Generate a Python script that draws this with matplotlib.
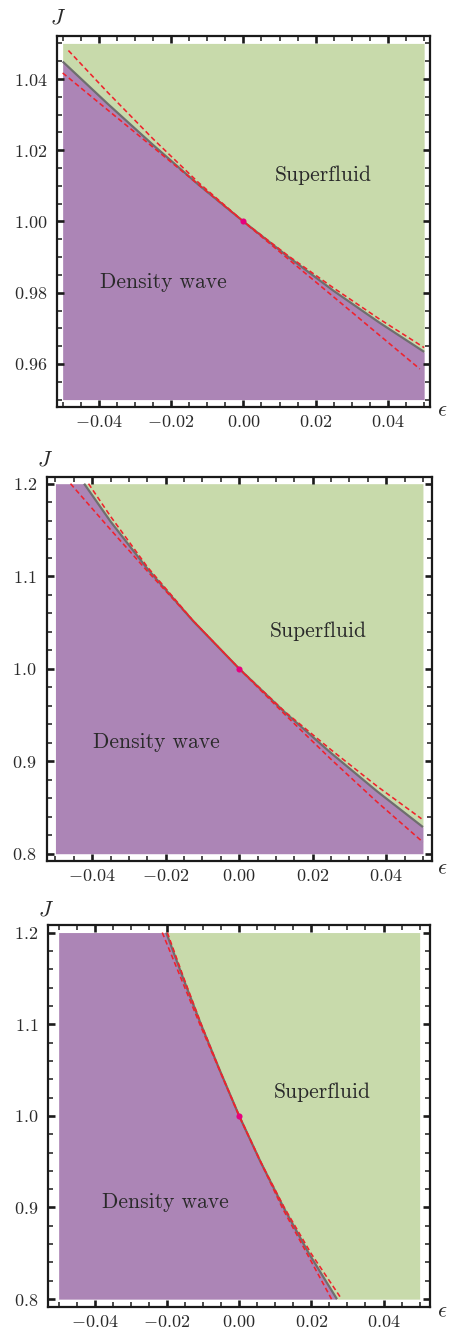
#!/usr/bin/env python3
# -*- coding: utf-8 -*-
"""Phase diagram J vs epsilon: density wave / superfluid, three panels."""

import numpy as np
import matplotlib
matplotlib.use("Agg")
import matplotlib.pyplot as plt
from matplotlib.ticker import MultipleLocator

plt.rcParams["font.family"] = ["cmr10", "DejaVu Serif"]
plt.rcParams["mathtext.fontset"] = "cm"
plt.rcParams["axes.formatter.use_mathtext"] = True
plt.rcParams["axes.unicode_minus"] = True

# ============================
# Data
# ============================
# Panel 1
EPS1_BOUND = [-0.05, -0.0375, -0.025, -0.0125, 0.0, 0.0125, 0.025, 0.0375, 0.05]
J1_BOUND = [1.0449, 1.0330, 1.0215, 1.0104, 1.0, 0.9900, 0.9805, 0.9717, 0.9634]
EPS1_UP = [-0.0484, -0.0375, -0.025, -0.0125, 0.0, 0.0125, 0.025, 0.0375, 0.05]
J1_UP = [1.0480, 1.0362, 1.0232, 1.0110, 1.0, 0.9903, 0.9813, 0.9727, 0.9646]
EPS1_LO = [-0.05, 0.0, 0.0488]
J1_LO = [1.0417, 1.0, 0.9586]

# Panel 2
EPS2_BOUND = [-0.0422, -0.035, -0.025, -0.0125, 0.0, 0.0125, 0.025, 0.0375, 0.05]
J2_BOUND = [1.2, 1.1591, 1.1081, 1.0513, 1.0, 0.9525, 0.9088, 0.8675, 0.8288]
EPS2_UP = [-0.0410, -0.035, -0.025, -0.0125, 0.0, 0.0125, 0.025, 0.0375, 0.0496]
J2_UP = [1.2, 1.1646, 1.1101, 1.0517, 1.0, 0.9533, 0.9123, 0.8730, 0.8378]
EPS2_LO = [-0.0459, -0.035, -0.025, -0.0125, 0.0, 0.0125, 0.025, 0.0375, 0.05]
J2_LO = [1.2, 1.1503, 1.1055, 1.0518, 1.0, 0.9502, 0.9020, 0.8560, 0.8125]

# Panel 3
EPS3_BOUND = [-0.0202, -0.0155, -0.0106, -0.0054, 0.0, 0.0059, 0.0123, 0.0193, 0.0271]
J3_BOUND = [1.2, 1.15, 1.1, 1.05, 1.0, 0.95, 0.9, 0.85, 0.8]
EPS3_UP = [-0.0199, -0.0153, -0.0105, -0.0054, 0.0, 0.0059, 0.0125, 0.0199, 0.0284]
J3_UP = [1.2, 1.15, 1.1, 1.05, 1.0, 0.95, 0.9, 0.85, 0.8]
EPS3_LO = [-0.0213, -0.0109, 0.0, 0.0119, 0.0256]
J3_LO = [1.2, 1.1, 1.0, 0.9, 0.8]

# Critical point
EPS_C = 0.0
J_C = 1.0

# Tick labels
X_TICKS = [-0.04, -0.02, 0.0, 0.02, 0.04]
X_TICKLABELS = [r"$-0.04$", r"$-0.02$", r"$0.00$", r"$0.02$", r"$0.04$"]
Y1_TICKS = [0.96, 0.98, 1.00, 1.02, 1.04]
Y1_TICKLABELS = [r"$0.96$", r"$0.98$", r"$1.00$", r"$1.02$", r"$1.04$"]
Y2_TICKS = [0.8, 0.9, 1.0, 1.1, 1.2]
Y2_TICKLABELS = [r"$0.8$", r"$0.9$", r"$1.0$", r"$1.1$", r"$1.2$"]

# ============================
# Style
# ============================
COLOR_DW = "#AC85B6"
COLOR_SF = "#C8DAAB"
COLOR_BOUND = "#6E6E6E"
COLOR_DASH = "#F0222C"
COLOR_POINT = "#E6007E"
COLOR_FRAME = "#1A1A1A"
COLOR_TEXT = "#2A2A2A"

# Panel configs: axes rect (px), data range, axis limits, text positions
W, H = 449, 1328
PANELS = [
    dict(px=(57.3, 35.7, 429.5, 407.3), xr=(-0.05, 0.05), yr=(0.95, 1.05),
         xlim=(-0.05148, 0.05148), ylim=(0.94784, 1.05216),
         bound=(EPS1_BOUND, J1_BOUND), up=(EPS1_UP, J1_UP), lo=(EPS1_LO, J1_LO),
         yticks=(Y1_TICKS, Y1_TICKLABELS), yminor=0.005,
         sf=(0.0220, 1.0130), dw=(-0.0222, 0.9829),
         jpos=(0.003, 1.047), epos=(1.033, -0.009)),
    dict(px=(46.7, 476.7, 431.7, 860.7), xr=(-0.05, 0.05), yr=(0.8, 1.2),
         xlim=(-0.05238, 0.05238), ylim=(0.79245, 1.20755),
         bound=(EPS2_BOUND, J2_BOUND), up=(EPS2_UP, J2_UP), lo=(EPS2_LO, J2_LO),
         yticks=(Y2_TICKS, Y2_TICKLABELS), yminor=0.02,
         sf=(0.0214, 1.0407), dw=(-0.0226, 0.9210),
         jpos=(-0.004, 1.043), epos=(1.026, -0.020)),
    dict(px=(48.3, 925.0, 430.0, 1306.7), xr=(-0.05, 0.05), yr=(0.8, 1.2),
         xlim=(-0.05287, 0.05287), ylim=(0.79176, 1.20824),
         bound=(EPS3_BOUND, J3_BOUND), up=(EPS3_UP, J3_UP), lo=(EPS3_LO, J3_LO),
         yticks=(Y2_TICKS, Y2_TICKLABELS), yminor=0.02,
         sf=(0.0231, 1.0255), dw=(-0.0203, 0.9054),
         jpos=(-0.006, 1.041), epos=(1.031, -0.013)),
]


def draw_panel(fig, cfg):
    x0, y0, x1, y1 = cfg["px"]
    ax = fig.add_axes([x0 / W, 1 - y1 / H, (x1 - x0) / W, (y1 - y0) / H])
    xmin, xmax = cfg["xr"]
    ymin, ymax = cfg["yr"]

    # boundary extended to the edges of the data range for the fills
    bx = list(cfg["bound"][0])
    by = list(cfg["bound"][1])
    if bx[0] > xmin:
        bx = [xmin] + bx
        by = [by[0]] + by
    if bx[-1] < xmax:
        bx = bx + [xmax]
        by = by + [by[-1]]
    bx = np.array(bx)
    by = np.array(by)

    ax.fill_between(bx, ymin, by, color=COLOR_DW, lw=0, zorder=1)
    ax.fill_between(bx, by, ymax, color=COLOR_SF, lw=0, zorder=1)

    ax.plot(cfg["bound"][0], cfg["bound"][1], color=COLOR_BOUND, lw=1.6, zorder=3,
            solid_capstyle="butt", solid_joinstyle="round")
    for key in ("up", "lo"):
        ax.plot(cfg[key][0], cfg[key][1], color=COLOR_DASH, lw=1.15,
                dashes=(3.1, 1.9), zorder=4)
    ax.plot([EPS_C], [J_C], "o", color=COLOR_POINT, ms=4.4, mec="none", zorder=5)

    ax.text(cfg["sf"][0], cfg["sf"][1], "Superfluid", fontsize=15.5,
            ha="center", va="center", color=COLOR_TEXT, zorder=6)
    ax.text(cfg["dw"][0], cfg["dw"][1], "Density wave", fontsize=15.5,
            ha="center", va="center", color=COLOR_TEXT, zorder=6)

    ax.text(cfg["jpos"][0], cfg["jpos"][1], r"$J$", transform=ax.transAxes,
            fontsize=16, ha="center", va="center", color=COLOR_TEXT)
    ax.text(cfg["epos"][0], cfg["epos"][1], r"$\epsilon$", transform=ax.transAxes,
            fontsize=16, ha="center", va="center", color=COLOR_TEXT)

    ax.set_xlim(*cfg["xlim"])
    ax.set_ylim(*cfg["ylim"])
    ax.set_xticks(X_TICKS, X_TICKLABELS)
    ax.set_yticks(cfg["yticks"][0], cfg["yticks"][1])
    ax.xaxis.set_minor_locator(MultipleLocator(0.005))
    ax.yaxis.set_minor_locator(MultipleLocator(cfg["yminor"]))

    ax.tick_params(which="both", direction="in", top=True, right=True,
                   color=COLOR_FRAME, labelsize=13, labelcolor=COLOR_TEXT)
    ax.tick_params(which="major", length=5.2, width=1.9)
    ax.tick_params(which="minor", length=3.4, width=1.1)
    ax.tick_params(axis="y", which="major", pad=7.2)
    ax.tick_params(axis="x", which="major", pad=5.0)
    for sp in ax.spines.values():
        sp.set_linewidth(1.6)
        sp.set_color(COLOR_FRAME)
    return ax


def main():
    fig = plt.figure(figsize=(W / 100, H / 100), dpi=100)
    for cfg in PANELS:
        draw_panel(fig, cfg)
    fig.savefig("out.png", dpi=100, facecolor="white")
    plt.close(fig)


if __name__ == "__main__":
    main()
